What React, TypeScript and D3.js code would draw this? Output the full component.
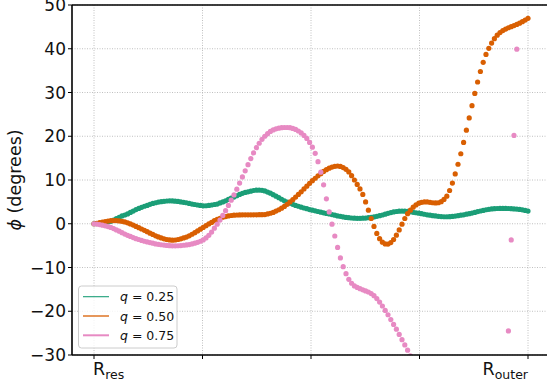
import React from "react";
import * as d3 from "d3";

// phi (degrees) sampled on an even grid between R_res and R_outer
const green = [
  0, 0.05, 0.1, 0.17, 0.25, 0.4, 0.55, 0.85, 1.15, 1.45,
  1.8, 2.0, 2.25, 2.6, 2.9, 3.25, 3.5, 3.75, 4.0, 4.2,
  4.45, 4.65, 4.8, 4.95, 5.05, 5.12, 5.2, 5.25, 5.22, 5.17,
  5.1, 5.0, 4.9, 4.8, 4.65, 4.5, 4.4, 4.28, 4.18, 4.1,
  4.12, 4.18, 4.28, 4.4, 4.5, 4.75, 5.0, 5.25, 5.55, 5.85,
  6.1, 6.4, 6.7, 6.95, 7.15, 7.3, 7.45, 7.6, 7.68, 7.7,
  7.65, 7.5, 7.25, 7.0, 6.65, 6.3, 5.95, 5.6, 5.25, 4.95,
  4.7, 4.45, 4.2, 4.0, 3.8, 3.6, 3.45, 3.25, 3.1, 2.95,
  2.8, 2.65, 2.5, 2.35, 2.25, 2.1, 1.95, 1.8, 1.7, 1.55,
  1.45, 1.38, 1.32, 1.28, 1.25, 1.25, 1.27, 1.3, 1.38, 1.45,
  1.55, 1.7, 1.85, 2.0, 2.2, 2.38, 2.55, 2.7, 2.8, 2.88,
  2.9, 2.88, 2.82, 2.72, 2.62, 2.52, 2.42, 2.3, 2.17, 2.05,
  1.95, 1.85, 1.78, 1.7, 1.63, 1.6, 1.6, 1.62, 1.68, 1.75,
  1.85, 1.95, 2.05, 2.18, 2.3, 2.45, 2.6, 2.78, 2.92, 3.05,
  3.2, 3.3, 3.38, 3.45, 3.48, 3.5, 3.5, 3.5, 3.48, 3.45,
  3.4, 3.35, 3.28, 3.18, 3.05, 2.9,
];

const orange = [
  0, 0.12, 0.25, 0.37, 0.5, 0.62, 0.7, 0.72, 0.72, 0.65,
  0.55, 0.42, 0.22, -0.05, -0.3, -0.6, -0.9, -1.2, -1.5, -1.8,
  -2.15, -2.45, -2.75, -3.0, -3.25, -3.45, -3.6, -3.7, -3.75, -3.72,
  -3.6, -3.45, -3.25, -3.05, -2.75, -2.4, -2.05, -1.65, -1.25, -0.85,
  -0.45, -0.05, 0.3, 0.7, 1.0, 1.25, 1.5, 1.65, 1.78, 1.88,
  1.95, 2.0, 2.02, 2.04, 2.05, 2.05, 2.05, 2.05, 2.05, 2.07,
  2.08, 2.1, 2.25, 2.4, 2.6, 2.9, 3.2, 3.55, 3.95, 4.45,
  5.0, 5.5, 6.1, 6.7, 7.3, 7.95, 8.6, 9.25, 9.85, 10.4,
  10.95, 11.45, 11.95, 12.35, 12.7, 12.95, 13.12, 13.2, 13.1, 12.85,
  12.45, 11.85, 11.0, 10.0, 9.0, 7.95, 6.7, 5.0, 3.1, 1.2,
  -0.6, -2.2, -3.4, -4.2, -4.6, -4.65, -4.3, -3.6, -2.6, -1.4,
  -0.1, 1.2, 2.3, 3.1, 3.8, 4.3, 4.7, 4.9, 5.0, 4.98,
  4.9, 4.8, 4.75, 4.8, 5.05, 5.55, 6.3, 7.6, 9.3, 11.4,
  13.6, 16.0, 18.6, 21.4, 24.2, 27.0, 29.8, 32.4, 34.8, 36.9,
  38.7, 40.1, 41.3, 42.3, 43.1, 43.7, 44.15, 44.5, 44.8, 45.05,
  45.3, 45.55, 45.85, 46.2, 46.55, 46.95,
];

const pink = [
  0, -0.08, -0.18, -0.32, -0.48, -0.65, -0.85, -1.1, -1.4, -1.7,
  -2.05, -2.35, -2.65, -2.9, -3.15, -3.4, -3.6, -3.8, -4.0, -4.15,
  -4.3, -4.45, -4.6, -4.7, -4.8, -4.88, -4.95, -5.0, -5.05, -5.05,
  -5.03, -4.98, -4.92, -4.85, -4.75, -4.6, -4.45, -4.25, -4.0, -3.7,
  -3.25, -2.65, -1.9, -1.0, -0.1, 0.85, 1.9, 3.0, 4.2, 5.4,
  6.6, 7.9, 9.3, 10.7, 12.1, 13.5, 14.9, 16.2, 17.4, 18.4,
  19.3, 20.0, 20.6, 21.1, 21.45, 21.7, 21.85, 21.95, 22.0, 22.0,
  21.95, 21.8, 21.55, 21.2, 20.75, 20.2, 19.5, 18.6, 17.5, 16.1,
  14.2, 11.8, 8.9, 5.7, 2.7, -0.1, -2.8, -5.4, -7.8, -9.8,
  -11.4, -12.7, -13.6, -14.2, -14.55, -14.85, -15.1, -15.35, -15.6, -15.95,
  -16.45, -17.1, -17.9, -18.8, -19.8, -20.8, -21.9, -23.0, -24.1, -25.3,
  -26.5, -27.7, -28.9, -30.2, -31.5, -32.9, -34.4, -36.0, -37.7, -39.5,
  -41.4, -43.4, -45.5, -47.7, -50.0, -52.4, -54.9, -57.5, -60.2, -63.0,
  -65.9, -68.9, -72.0, -75.1, -78.2, -81.2, -84.0, -86.5, -88.6, -90.0,
  -90.4, -89.5, -87.0, -82.5, -76.0, -67.5, -57.0, -42.5, -24.5, -3.7,
  20.2, 39.9, 56.0, 68.5, 77.5, 83.5,
];

const series = [
  { label: "0.25", color: "#1b9e77", values: green, lw: 1.1 },
  { label: "0.50", color: "#d95f02", values: orange, lw: 1.3 },
  { label: "0.75", color: "#e78ac3", values: pink, lw: 2 },
];

const xTicks = [0, 1, 2, 3, 4];
const yTicks = [-30, -20, -10, 0, 10, 20, 30, 40, 50];

const W = 547;
const H = 385;
const left = 72;
const top = 5;
const bottom = 355;
const right = 560;
const font = "DejaVu Sans";

function App() {
  const n = green.length;
  const x = d3.scaleLinear().domain([0, 4]).range([94, 528]);
  const y = d3.scaleLinear().domain([-30, 50]).range([bottom, top]);
  const grid = (i: number) => (4 * i) / (n - 1);
  const fmt = (v: number) => (v < 0 ? "\u2212" + Math.abs(v) : String(v));

  return (
    <svg
      width={W}
      height={H}
      style={{ position: "absolute", left: 0, top: 0, background: "white" }}
      fontFamily={font}
    >
      <defs>
        <clipPath id="plot">
          <rect x={left} y={top} width={right - left} height={bottom - top} />
        </clipPath>
      </defs>
      <rect width={W} height={H} fill="white" />

      {/* grid */}
      <g stroke="#b0b0b0" strokeWidth={0.8} strokeDasharray="1,1.5">
        {xTicks.map((t) => (
          <line key={"gx" + t} x1={x(t)} x2={x(t)} y1={top} y2={bottom} />
        ))}
        {yTicks.map((t) => (
          <line key={"gy" + t} x1={left} x2={W} y1={y(t)} y2={y(t)} />
        ))}
      </g>

      {/* dots */}
      <g clipPath="url(#plot)">
        {series.map((s) => (
          <g key={s.label} fill={s.color}>
            {s.values.map((v, i) => (
              <circle key={i} cx={x(grid(i))} cy={y(v)} r={2.6} />
            ))}
          </g>
        ))}
      </g>

      {/* spines */}
      <g stroke="black" strokeWidth={1.6}>
        <line x1={left} x2={left} y1={top} y2={bottom} />
        <line x1={left} x2={W} y1={bottom} y2={bottom} />
        <line x1={left} x2={W} y1={top} y2={top} />
      </g>

      {/* ticks */}
      <g stroke="black" strokeWidth={1}>
        {xTicks.map((t) => (
          <line key={"tx" + t} x1={x(t)} x2={x(t)} y1={bottom} y2={bottom + 4} />
        ))}
        {yTicks.map((t) => (
          <line key={"ty" + t} x1={left - 4} x2={left} y1={y(t)} y2={y(t)} />
        ))}
      </g>

      <g fontSize={17} fill="#111" textAnchor="end">
        {yTicks.map((t) => (
          <text key={"ly" + t} x={66} y={y(t)} dy="0.36em">
            {fmt(t)}
          </text>
        ))}
      </g>

      {/* x labels */}
      <text x={x(0) - 1} y={375} fontSize={17.5} fill="#111">
        R<tspan fontSize={12.5} dy={3.5}>res</tspan>
      </text>
      <text x={x(4)} y={375} fontSize={17.5} fill="#111" textAnchor="end">
        R<tspan fontSize={12.5} dy={3.5}>outer</tspan>
      </text>

      {/* y label */}
      <text
        transform={`translate(21,${(top + bottom) / 2}) rotate(-90)`}
        textAnchor="middle"
        fontSize={17.5}
        fill="#111"
      >
        <tspan fontStyle="italic">ϕ</tspan> (degrees)
      </text>

      {/* legend */}
      <rect
        x={78.5}
        y={286}
        width={98.5}
        height={62}
        rx={3}
        fill="white"
        fillOpacity={0.8}
        stroke="#cccccc"
        strokeWidth={1}
      />
      {series.map((s, i) => {
        const ly = 296.7 + i * 19.3;
        return (
          <g key={"lg" + s.label}>
            <line x1={83} x2={109} y1={ly} y2={ly} stroke={s.color} strokeWidth={s.lw} />
            <text x={120} y={ly} dy="0.36em" fontSize={12.5} fill="#111">
              <tspan fontStyle="italic">q</tspan> = {s.label}
            </text>
          </g>
        );
      })}
    </svg>
  );
}

export default App;
